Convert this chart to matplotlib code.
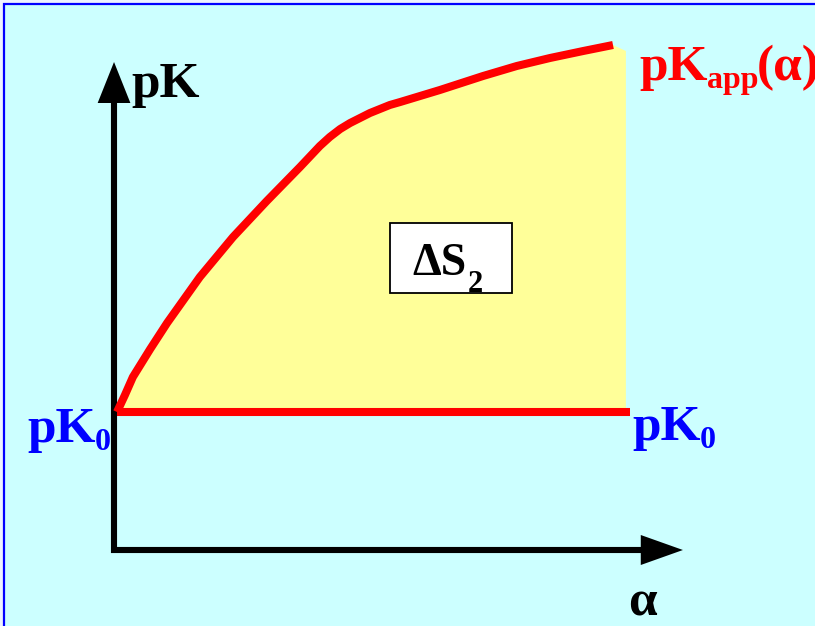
import matplotlib
matplotlib.use("Agg")
import matplotlib.pyplot as plt
from matplotlib.patches import Rectangle, Polygon

plt.rcParams['font.family'] = ['Liberation Serif', 'DejaVu Serif']

# ---- data ----
alpha = [0.0, 0.016, 0.032, 0.067, 0.101, 0.167, 0.234, 0.302, 0.369, 0.409,
         0.429, 0.450, 0.470, 0.490, 0.510, 0.530, 0.550, 0.571, 0.611, 0.651,
         0.738, 0.806, 0.873, 0.940, 1.0]
pK_app = [4.00, 4.17, 4.35, 4.63, 4.89, 5.35, 5.75, 6.11, 6.45, 6.66,
          6.75, 6.83, 6.89, 6.94, 6.99, 7.03, 7.07, 7.10, 7.16, 7.22,
          7.36, 7.46, 7.54, 7.61, 7.67]
pK0 = 4.0
fill_end_alpha = 1.026
fill_end_pK = 7.61
base_end_alpha = 1.034

W, H = 815, 626
fig = plt.figure(figsize=(W / 100, H / 100), dpi=100)
fig.patch.set_facecolor('#EEF3FF')

# background panel with blue border (drawn in a back axes)
bg = fig.add_axes([0, 0, 1, 1], zorder=0)
bg.axis('off')
bg.set_xlim(0, 1)
bg.set_ylim(0, 1)
bg.add_patch(Rectangle((4 / W, -0.05), 1.1, (622 / H) + 0.05,
                       facecolor='#CCFFFF', edgecolor='#0000FF', linewidth=1.6))

ax = fig.add_axes([0, 0, 1, 1], zorder=1)
ax.set_facecolor('none')
ax.axis('off')
# pixel mapping: alpha 0 -> x=117, alpha 1 -> x=613; pK 4 -> y=412, 100 px per unit
ax.set_xlim(-117 / 496, (W - 117) / 496)
ax.set_ylim(pK0 + (412 - H) / 100, pK0 + 412 / 100)

# yellow area
poly_x = alpha + [fill_end_alpha, fill_end_alpha]
poly_y = pK_app + [fill_end_pK, pK0]
ax.add_patch(Polygon(list(zip(poly_x, poly_y)), closed=True,
                     facecolor='#FFFF99', edgecolor='none', zorder=1))

# axes arrows
ax_x0 = -0.006
ax_y0 = 2.62
ax.plot([ax_x0, ax_x0], [ax_y0 - 0.03, 7.10], color='black', lw=4.4,
        solid_capstyle='butt', zorder=2)
ax.add_patch(Polygon([(ax_x0 - 0.033, 7.09), (ax_x0 + 0.033, 7.09), (ax_x0, 7.50)],
                     closed=True, facecolor='black', edgecolor='none', zorder=2))
ax.plot([ax_x0 - 0.006, 1.06], [ax_y0, ax_y0], color='black', lw=4.4,
        solid_capstyle='butt', zorder=2)
ax.add_patch(Polygon([(1.056, ax_y0 + 0.15), (1.056, ax_y0 - 0.15), (1.141, ax_y0)],
                     closed=True, facecolor='black', edgecolor='none', zorder=2))

# red lines
ax.plot(alpha, pK_app, color='#FF0000', lw=5.8, solid_capstyle='butt',
        solid_joinstyle='round', zorder=3)
ax.plot([0.0, base_end_alpha], [pK0, pK0], color='#FF0000', lw=5.8,
        solid_capstyle='butt', zorder=3)

# box with ΔS2
ax.add_patch(Rectangle((390 / W, 1 - 293 / H), 122 / W, 70 / H,
                       transform=fig.transFigure, facecolor='white',
                       edgecolor='black', linewidth=1.3, zorder=4))


def ftxt(x, y, s, size, color):
    ax.text(x / W, 1 - y / H, s, va='baseline', ha='left', transform=fig.transFigure,
            zorder=6, fontsize=size, fontweight='bold', color=color)


BIG = 37
SUB = 23
# ΔS2
ftxt(412, 275, 'ΔS', 33, 'black')
ftxt(468, 292, '2', 22, 'black')
# axis labels
ftxt(131, 97, 'pK', BIG, 'black')
ftxt(628, 615, 'α', BIG, 'black')
# pK_app(α)
ftxt(639, 80, 'pK', BIG, '#FF0000')
ftxt(707, 88, 'app', SUB, '#FF0000')
ftxt(757, 80, '(α)', BIG, '#FF0000')
# pK0 labels
ftxt(27, 442, 'pK', BIG, '#0000FF')
ftxt(95, 450, '0', SUB, '#0000FF')
ftxt(632, 440, 'pK', BIG, '#0000FF')
ftxt(700, 448, '0', SUB, '#0000FF')

fig.savefig('out.png', dpi=100, facecolor=fig.get_facecolor())
